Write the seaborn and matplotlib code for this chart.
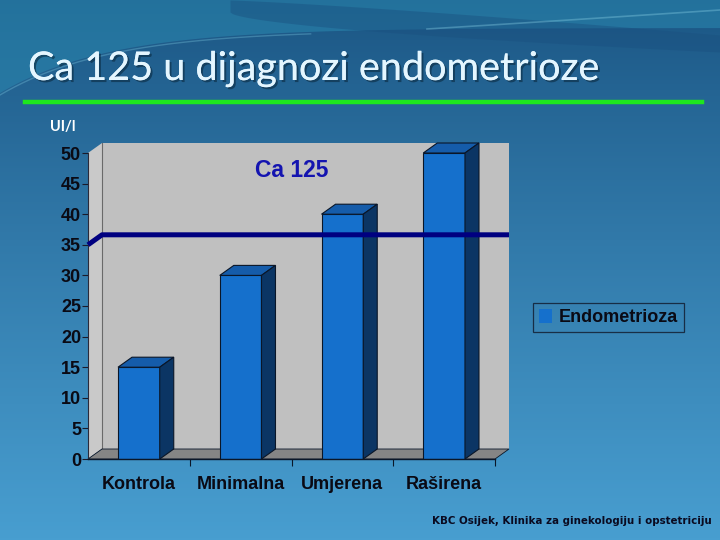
import numpy as np
import matplotlib
matplotlib.use("Agg")
import matplotlib.pyplot as plt
import matplotlib.patheffects as pe
from matplotlib.patches import Polygon, Patch
from matplotlib.lines import Line2D
import seaborn as sns

# podaci
categories = ["Kontrola", "Minimalna", "Umjerena", "Raširena"]
ca125_values = [15, 30, 40, 50]
threshold = 35
series_name = "Endometrioza"
y_ticks = list(range(0, 55, 5))

title = "Ca 125 u dijagnozi endometrioze"
unit_label = "UI/l"
chart_title = "Ca 125"
footer = "KBC Osijek, Klinika za ginekologiju i opstetriciju"

# boje
front_col = "#1570CC"
top_col = "#155CAA"
side_col = "#0B3564"
edge_col = "#0A1628"

W, H = 720, 540
fig = plt.figure(figsize=(W / 100, H / 100), dpi=100)

# pozadina - gradijent (u pikselima, y prema dolje)
bg = fig.add_axes([0, 0, 1, 1], zorder=-10)
yy, xx = np.mgrid[0:1:270j, 0:1:360j]
top = np.array([26, 84, 130]) / 255
bot = np.array([72, 158, 208]) / 255
t = np.clip(yy ** 0.85, 0, 1)[..., None]
img = top * (1 - t) + bot * t
bg.imshow(np.clip(img, 0, 1), extent=[0, W, H, 0], aspect="auto")
xs = np.linspace(0, W, 300)
teal_edge = 28 + 65 * np.exp(-xs / 110)
bg.fill_between(xs, 0, teal_edge, color="#2A86AE", alpha=0.6, lw=0)
bg.plot(xs[:130], teal_edge[:130] + 2, color="#7cc8e0", lw=1.0, alpha=0.35)
xr = np.linspace(230, W, 200)
f = (xr - 230) / (W - 230)
bg.fill_between(xr, 35 * f ** 1.2, 12 + 40 * f ** 0.6, color="#1a5080", alpha=0.45, lw=0)
bg.plot(xr[80:], 38 - 30 * f[80:] ** 1.1 + 2, color="#8fd6ea", lw=1.2, alpha=0.35)
bg.set_xlim(0, W)
bg.set_ylim(H, 0)
bg.axis("off")

# naslov
fig.text(28 / W, 1 - 80 / H, title, fontsize=28.5, family="Lato", color="#E4F6FF",
         va="baseline", ha="left",
         path_effects=[pe.withSimplePatchShadow(offset=(1.5, -1.5), shadow_rgbFace="#0a2a40", alpha=0.6), pe.Normal()])
fig.add_artist(Line2D([25 / W, 702 / W], [1 - 102 / H, 1 - 102 / H], color="#1EE61E", lw=3.2))
fig.text(50 / W, 1 - 127 / H, unit_label, fontsize=10.5, family="Lato", weight="bold",
         color="white", va="center", ha="left")

# graf
ax_left, ax_right = 88, 495
ax_bottom, ax_top = 459, 153
ax = fig.add_axes([ax_left / W, 1 - ax_bottom / H, (ax_right - ax_left) / W, (ax_bottom - ax_top) / H])
ax.patch.set_visible(False)

sns.barplot(x=categories, y=ca125_values, color=front_col, width=0.41, saturation=1,
            edgecolor=edge_col, linewidth=0.8, ax=ax, zorder=2)

xmin, xmax = -0.5, len(categories) - 0.5
ymin, ymax = 0, 50
ax.set_xlim(xmin, xmax)
ax.set_ylim(ymin, ymax)

# dubina 3D efekta u jedinicama podataka
dx = 14 / (ax_right - ax_left) * (xmax - xmin)
dy = 10 / (ax_bottom - ax_top) * (ymax - ymin)

# stražnji zid, lijevi zid, pod
ax.add_patch(Polygon([(xmin + dx, ymin + dy), (xmax + dx, ymin + dy), (xmax + dx, ymax + dy), (xmin + dx, ymax + dy)],
                     closed=True, fc="#C0C0C0", ec="none", zorder=0.3, clip_on=False))
ax.add_patch(Polygon([(xmin, ymin), (xmin + dx, ymin + dy), (xmin + dx, ymax + dy), (xmin, ymax)],
                     closed=True, fc="#C9C9C9", ec="none", zorder=0.4, clip_on=False))
ax.plot([xmin + dx, xmin + dx], [ymin + dy, ymax + dy], color="#6a6a6a", lw=0.8, zorder=0.5, clip_on=False)
ax.add_patch(Polygon([(xmin, ymin), (xmax, ymin), (xmax + dx, ymin + dy), (xmin + dx, ymin + dy)],
                     closed=True, fc="#858585", ec=edge_col, lw=0.6, zorder=0.5, clip_on=False))

# 3D stupci: gornja i bočna ploha
for p in ax.patches:
    if p.get_zorder() != 2:
        continue
    x0, w, h = p.get_x(), p.get_width(), p.get_height()
    ax.add_patch(Polygon([(x0, h), (x0 + w, h), (x0 + w + dx, h + dy), (x0 + dx, h + dy)],
                         closed=True, fc=top_col, ec=edge_col, lw=0.8, zorder=2.1, clip_on=False))
    ax.add_patch(Polygon([(x0 + w, 0), (x0 + w + dx, dy), (x0 + w + dx, h + dy), (x0 + w, h)],
                         closed=True, fc=side_col, ec=edge_col, lw=0.8, zorder=2.1, clip_on=False))

# granična vrijednost
ax.plot([xmin, xmin + dx, xmax + dx], [threshold, threshold + dy, threshold + dy],
        color="#000080", lw=3.6, zorder=4, clip_on=False, solid_capstyle="butt")

for s in ["top", "right"]:
    ax.spines[s].set_visible(False)
ax.spines["left"].set_color("#2a2a3a")
ax.spines["left"].set_linewidth(0.8)
ax.spines["bottom"].set_color(edge_col)
ax.spines["bottom"].set_linewidth(1.0)
ax.spines["bottom"].set_zorder(3)

ax.set_yticks(y_ticks)
ax.set_yticklabels([str(v) for v in y_ticks])
ax.tick_params(axis="y", length=4, width=0.8, color="#1a1a2a", pad=1, labelsize=13)
ax.tick_params(axis="x", length=0, pad=12, labelsize=13)
ax.set_xticks(np.arange(0.5, len(categories)), minor=True)
ax.tick_params(axis="x", which="minor", length=5, width=0.8, color=edge_col)
for lab in ax.get_xticklabels() + ax.get_yticklabels():
    lab.set_fontweight("bold")
    lab.set_family("Liberation Sans")
    lab.set_color("#0a0a14")
ax.set_xlabel("")
ax.set_ylabel("")

fig.text(292 / W, 1 - 170 / H, chart_title, fontsize=16.5, family="Liberation Sans", weight="bold",
         color="#1414B0", ha="center", va="center")

leg = fig.legend(handles=[Patch(facecolor=front_col, edgecolor="none")], labels=[series_name],
                 loc="center left", bbox_to_anchor=(533 / W, 1 - 317.5 / H), frameon=True,
                 fancybox=False, edgecolor="#10182a",
                 prop={"family": "Liberation Sans", "weight": "bold", "size": 13},
                 handlelength=0.7, handleheight=0.8, handletextpad=0.35, borderpad=0.35,
                 borderaxespad=0)
leg.get_frame().set_facecolor("none")
leg.get_frame().set_linewidth(0.9)
for txt in leg.get_texts():
    txt.set_color("#0a0a14")

fig.text(712 / W, 1 - 521 / H, footer, fontsize=7.4, family="DejaVu Sans", weight="bold",
         color="#0a0a20", ha="right", va="center")

fig.savefig("out.png", dpi=100)
